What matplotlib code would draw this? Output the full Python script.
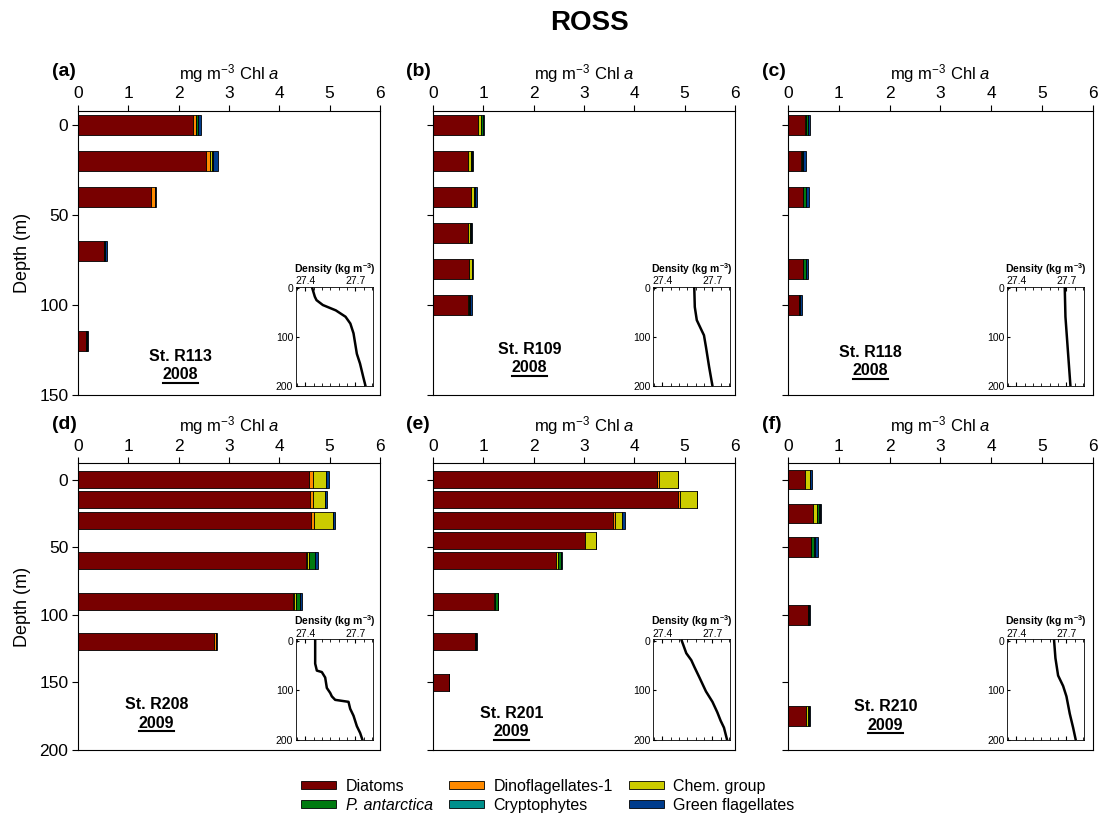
import numpy as np
import matplotlib
matplotlib.use("Agg")
import matplotlib.pyplot as plt
from matplotlib.patches import Patch
from matplotlib.lines import Line2D
from matplotlib.ticker import MultipleLocator

plt.rcParams["font.family"] = ["Liberation Sans", "DejaVu Sans"]
plt.rcParams["mathtext.fontset"] = "custom"
plt.rcParams["mathtext.rm"] = "Liberation Sans"
plt.rcParams["mathtext.it"] = "Liberation Sans:italic"
plt.rcParams["mathtext.bf"] = "Liberation Sans:bold"

# Pigment groups (stacking order inside each bar)
GROUPS = ["Diatoms", "Dinoflagellates-1", "Chem. group",
          "P. antarctica", "Cryptophytes", "Green flagellates"]
COLORS = ["#780000", "#ff8a00", "#cccc00", "#007a10", "#00908c", "#003c8c"]

# Chl a per group (mg m-3), rows follow GROUPS
R113_DEPTH = [0, 20, 40, 70, 120]
R113_CHL = [
    [2.28, 2.54, 1.46, 0.52, 0.16],
    [0.06, 0.08, 0.08, 0.00, 0.00],
    [0.00, 0.04, 0.00, 0.00, 0.00],
    [0.04, 0.03, 0.00, 0.02, 0.02],
    [0.00, 0.00, 0.00, 0.00, 0.00],
    [0.06, 0.09, 0.01, 0.03, 0.02],
]
R109_DEPTH = [0, 20, 40, 60, 80, 100]
R109_CHL = [
    [0.90, 0.69, 0.75, 0.69, 0.72, 0.69],
    [0.00, 0.00, 0.00, 0.00, 0.00, 0.00],
    [0.06, 0.06, 0.07, 0.05, 0.05, 0.02],
    [0.03, 0.02, 0.02, 0.02, 0.01, 0.03],
    [0.00, 0.00, 0.00, 0.00, 0.00, 0.00],
    [0.03, 0.03, 0.03, 0.02, 0.02, 0.04],
]
R118_DEPTH = [0, 20, 40, 80, 100]
R118_CHL = [
    [0.33, 0.25, 0.29, 0.30, 0.22],
    [0.00, 0.00, 0.00, 0.00, 0.00],
    [0.01, 0.03, 0.01, 0.00, 0.00],
    [0.04, 0.01, 0.04, 0.05, 0.02],
    [0.00, 0.00, 0.00, 0.00, 0.00],
    [0.04, 0.05, 0.07, 0.04, 0.04],
]
R208_DEPTH = [0, 15, 30, 60, 90, 120]
R208_CHL = [
    [4.60, 4.62, 4.64, 4.54, 4.28, 2.71],
    [0.07, 0.05, 0.04, 0.02, 0.02, 0.03],
    [0.26, 0.23, 0.39, 0.04, 0.04, 0.00],
    [0.00, 0.00, 0.00, 0.10, 0.08, 0.01],
    [0.00, 0.00, 0.00, 0.00, 0.00, 0.00],
    [0.05, 0.05, 0.03, 0.06, 0.04, 0.01],
]
R201_DEPTH = [0, 15, 30, 45, 60, 90, 120, 150]
R201_CHL = [
    [4.46, 4.87, 3.57, 3.03, 2.44, 1.22, 0.83, 0.32],
    [0.04, 0.03, 0.05, 0.00, 0.00, 0.00, 0.00, 0.00],
    [0.37, 0.34, 0.14, 0.22, 0.05, 0.02, 0.00, 0.00],
    [0.00, 0.00, 0.00, 0.00, 0.05, 0.05, 0.02, 0.00],
    [0.00, 0.00, 0.00, 0.00, 0.00, 0.00, 0.00, 0.00],
    [0.00, 0.00, 0.05, 0.00, 0.02, 0.00, 0.02, 0.00],
]
R210_DEPTH = [0, 25, 50, 100, 175]
R210_CHL = [
    [0.33, 0.49, 0.45, 0.38, 0.35],
    [0.00, 0.00, 0.00, 0.00, 0.00],
    [0.09, 0.08, 0.00, 0.00, 0.04],
    [0.00, 0.03, 0.06, 0.03, 0.02],
    [0.00, 0.02, 0.02, 0.00, 0.00],
    [0.05, 0.03, 0.06, 0.02, 0.02],
]

# Density (sigma) profiles: depth (m) and kg m-3
R113_SIG_Z = [0, 17, 24, 34, 45, 58, 72, 92, 113, 134, 154, 181, 200]
R113_SIG = [27.443, 27.458, 27.468, 27.506, 27.584, 27.642, 27.671,
            27.690, 27.700, 27.710, 27.729, 27.748, 27.762]
R109_SIG_Z = [0, 38, 65, 86, 96, 120, 161, 200]
R109_SIG = [27.591, 27.594, 27.606, 27.635, 27.649, 27.661, 27.680, 27.700]
R118_SIG_Z = [0, 58, 134, 200]
R118_SIG = [27.690, 27.694, 27.710, 27.724]
R208_SIG_Z = [0, 46, 60, 63, 74, 95, 105, 112, 119, 123, 137, 151, 172, 186, 200]
R208_SIG = [27.460, 27.460, 27.470, 27.500, 27.520, 27.530, 27.550, 27.560,
            27.580, 27.660, 27.670, 27.690, 27.710, 27.730, 27.744]
R201_SIG_Z = [0, 25, 39, 53, 74, 102, 123, 144, 161, 175, 200]
R201_SIG = [27.516, 27.543, 27.573, 27.592, 27.622, 27.661, 27.700,
            27.729, 27.749, 27.769, 27.788]
R210_SIG_Z = [0, 35, 70, 91, 112, 147, 175, 200]
R210_SIG = [27.626, 27.634, 27.650, 27.680, 27.700, 27.720, 27.740, 27.756]

PANELS = [
    ("(a)", "St. R113", "2008", R113_DEPTH, R113_CHL, R113_SIG_Z, R113_SIG),
    ("(b)", "St. R109", "2008", R109_DEPTH, R109_CHL, R109_SIG_Z, R109_SIG),
    ("(c)", "St. R118", "2008", R118_DEPTH, R118_CHL, R118_SIG_Z, R118_SIG),
    ("(d)", "St. R208", "2009", R208_DEPTH, R208_CHL, R208_SIG_Z, R208_SIG),
    ("(e)", "St. R201", "2009", R201_DEPTH, R201_CHL, R201_SIG_Z, R201_SIG),
    ("(f)", "St. R210", "2009", R210_DEPTH, R210_CHL, R210_SIG_Z, R210_SIG),
]

# Layout
COL_LEFT = [0.0709, 0.3934, 0.7166]
COL_WIDTH = [0.2745, 0.2748, 0.2767]
ROW_BOTTOM = [0.516, 0.0809]
ROW_HEIGHT = [0.348, 0.3513]
INSET_LEFT = [0.2691, 0.5939, 0.9157]
INSET_BOTTOM = [0.527, 0.0931]
INSET_HEIGHT = [0.1213, 0.1234]
BAR_HEIGHT = [11, 11, 11, 12.5, 12.5, 14.5]
YLIM = [(150, -8), (200, -12)]
YTICKS = [[0, 50, 100, 150], [0, 50, 100, 150, 200]]
LABEL_POS = [(0.34, 0.134), (0.32, 0.16), (0.27, 0.148),
             (0.26, 0.157), (0.26, 0.126), (0.32, 0.15)]

fig = plt.figure(figsize=(11, 8.16), dpi=100)
fig.text(0.536, 0.972, "ROSS", ha="center", va="center",
         fontsize=20, fontweight="bold")

year_texts = []
for i, (tag, station, year, depth, chl, sig_z, sig) in enumerate(PANELS):
    row, col = divmod(i, 3)
    ax = fig.add_axes([COL_LEFT[col], ROW_BOTTOM[row],
                       COL_WIDTH[col], ROW_HEIGHT[row]])

    left = np.zeros(len(depth))
    for vals, color in zip(chl, COLORS):
        vals = np.array(vals)
        ax.barh(depth, vals, left=left, height=BAR_HEIGHT[i], color=color,
                edgecolor="black", linewidth=0.6)
        left += vals

    ax.set_xlim(0, 6)
    ax.set_ylim(*YLIM[row])
    ax.set_yticks(YTICKS[row])
    ax.xaxis.tick_top()
    ax.xaxis.set_label_position("top")
    ax.set_xticks(range(7))
    ax.set_xlabel("mg m$^{-3}$ Chl $\\it{a}$", fontsize=12, labelpad=5)
    ax.tick_params(axis="both", direction="out", length=4, labelsize=12.5,
                   pad=3)
    if col == 0:
        ax.set_ylabel("Depth (m)", fontsize=13, labelpad=6)
    else:
        ax.set_yticklabels([])
    for sp in ax.spines.values():
        sp.set_linewidth(0.8)

    fig.text(COL_LEFT[col] - 0.024, ROW_BOTTOM[row] + ROW_HEIGHT[row] + 0.048,
             tag, fontsize=14, fontweight="bold", ha="left", va="center")

    lx, ly = LABEL_POS[i]
    ax.text(lx, ly, station, transform=ax.transAxes, ha="center",
            va="center", fontsize=11.5, fontweight="bold")
    yt = ax.text(lx, ly - 0.063, year, transform=ax.transAxes, ha="center",
                 va="center", fontsize=11.5, fontweight="bold")
    year_texts.append((ax, yt))

    # density profile inset
    ins = fig.add_axes([INSET_LEFT[col], INSET_BOTTOM[row], 0.0697,
                        INSET_HEIGHT[row]])
    ins.plot(sig, sig_z, color="black", linewidth=1.8)
    ins.set_xlim(27.345, 27.805)
    ins.set_ylim(200, -3)
    ins.set_xticks([27.4, 27.7])
    ins.xaxis.set_minor_locator(MultipleLocator(0.05))
    ins.set_yticks([0, 100, 200])
    ins.xaxis.tick_top()
    ins.xaxis.set_label_position("top")
    ins.tick_params(axis="x", which="both", direction="in", top=True,
                    bottom=True, labelsize=7.5, pad=0.5, length=2)
    ins.tick_params(axis="x", which="major", length=3)
    ins.tick_params(axis="y", direction="in", labelsize=7.5, pad=2, length=2)
    ins.set_xlabel("Density (kg m$^{\\mathbf{-3}}$)", fontsize=7.5,
                   fontweight="bold", labelpad=2.5)
    for sp in ins.spines.values():
        sp.set_linewidth(0.6)

# underline the year labels
fig.canvas.draw()
renderer = fig.canvas.get_renderer()
for ax, yt in year_texts:
    bb = yt.get_window_extent(renderer).transformed(ax.transAxes.inverted())
    y0 = bb.y0 - 0.003
    ax.add_line(Line2D([bb.x0, bb.x1], [y0, y0], transform=ax.transAxes,
                       color="black", linewidth=1.5, clip_on=False))

# legend laid out column-wise: 3 columns x 2 rows
order = [0, 3, 1, 4, 2, 5]
handles = [Patch(facecolor=COLORS[k], edgecolor="black", linewidth=0.6)
           for k in order]
labels = [GROUPS[k] for k in order]
leg = fig.legend(handles, labels, loc="center", ncol=3,
                 bbox_to_anchor=(0.498, 0.025), frameon=False, fontsize=11.5,
                 handlelength=2.2, handleheight=0.45, handletextpad=0.6,
                 columnspacing=1.0, labelspacing=0.25)
for t in leg.get_texts():
    if t.get_text() == "P. antarctica":
        t.set_fontstyle("italic")

fig.savefig("out.png", dpi=100)
